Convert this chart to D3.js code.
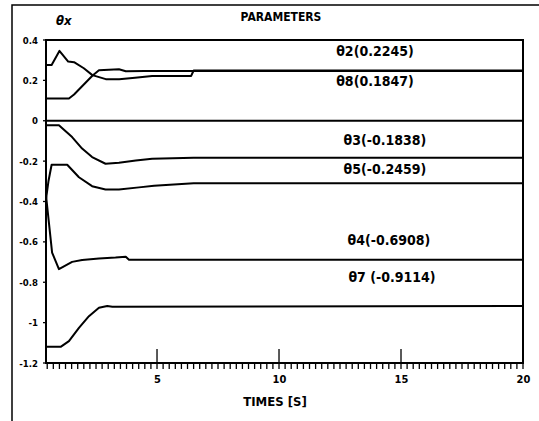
<!DOCTYPE html>
<html>
<head>
<meta charset="utf-8">
<script src="https://cdn.jsdelivr.net/npm/d3@7"></script>
<style>
  body { margin: 0; background: #fff; }
  svg { display: block; }
  text { font-family: "DejaVu Sans Condensed", "DejaVu Sans", sans-serif; font-weight: bold; fill: #000; }
</style>
</head>
<body>
<svg id="chart" width="539" height="421"></svg>
<script>
// values: [time (s), parameter value]
const theta2 = [[0.45,0.276],[0.68,0.276],[1.0,0.346],[1.36,0.293],[1.6,0.29],[2.0,0.26],[2.35,0.226],[2.9,0.206],[3.45,0.206],[4.1,0.213],[4.8,0.222],[6.4,0.222],[6.5,0.249],[20,0.249]];
const theta8 = [[0.45,0.11],[1.39,0.11],[1.6,0.13],[2.35,0.223],[2.62,0.25],[3.44,0.255],[3.72,0.245],[4.5,0.246],[20,0.246]];
const theta3 = [[0.45,-0.022],[0.98,-0.022],[1.52,-0.081],[1.93,-0.138],[2.34,-0.18],[2.89,-0.213],[3.44,-0.208],[4.13,-0.197],[4.8,-0.188],[6.5,-0.183],[20,-0.183]];
const theta5 = [[0.45,-0.39],[0.55,-0.3],[0.68,-0.218],[1.32,-0.218],[1.8,-0.28],[2.34,-0.324],[2.89,-0.341],[3.44,-0.341],[4.26,-0.33],[4.88,-0.322],[6.5,-0.31],[20,-0.31]];
const theta4 = [[0.45,-0.37],[0.7,-0.653],[0.98,-0.735],[1.52,-0.699],[1.93,-0.69],[2.62,-0.682],[3.3,-0.678],[3.72,-0.674],[3.85,-0.688],[20,-0.688]];
const theta7 = [[0.45,-1.12],[1.05,-1.12],[1.39,-1.092],[1.8,-1.026],[2.21,-0.968],[2.62,-0.926],[2.96,-0.918],[3.17,-0.921],[20,-0.918]];

const seriesNames = ["\u03b82(0.2245)", "\u03b88(0.1847)", "\u03b83(-0.1838)", "\u03b85(-0.2459)", "\u03b84(-0.6908)", "\u03b87 (-0.9114)"];
const seriesValues = [theta2, theta8, theta3, theta5, theta4, theta7];

const yTicks = [0.4, 0.2, 0, -0.2, -0.4, -0.6, -0.8, -1, -1.2];
const yTickLabels = ["0.4", "0.2", "0", "-0.2", "-0.4", "-0.6", "-0.8", "-1", "-1.2"];
const xTicks = [5, 10, 15, 20];
const xTickLabels = ["5", "10", "15", "20"];
const xMajor = [5, 10, 15];
const xMinor = d3.range(0.5, 20.01, 0.25);

const svg = d3.select("#chart");

const x = d3.scaleLinear().domain([0.45, 20]).range([46, 523]);
const y = d3.scaleLinear().domain([-1.2, 0.4]).range([363, 40]);
const y0 = y(-1.2), x0 = x(0.45);

// outer frame (left + top only)
svg.append("path")
  .attr("d", "M12,421V5H539")
  .attr("fill", "none").attr("stroke", "#000").attr("stroke-width", 1.5);

// titles
svg.append("text").attr("x", 281).attr("y", 21).attr("text-anchor", "middle")
  .style("font-size", "12px").text("PARAMETERS");
svg.append("text").attr("x", 56).attr("y", 25)
  .style("font-size", "13px").style("font-style", "italic").text("\u03b8x");
svg.append("text").attr("x", 275).attr("y", 406).attr("text-anchor", "middle")
  .style("font-size", "13px").text("TIMES [S]");

// x axis: minor ticks hanging below, major ticks standing up
const ticks = svg.append("g").attr("stroke", "#000").attr("stroke-width", 1.3);
ticks.selectAll("line.minor").data(xMinor).join("line").attr("class", "minor")
  .attr("x1", d => x(d)).attr("x2", d => x(d)).attr("y1", y0).attr("y2", y0 + 6);
ticks.selectAll("line.major").data(xMajor).join("line").attr("class", "major")
  .attr("x1", d => x(d)).attr("x2", d => x(d)).attr("y1", y0).attr("y2", y0 - 14);
ticks.selectAll("line.ytick").data(yTicks).join("line").attr("class", "ytick")
  .attr("x1", x0 - 3).attr("x2", x0).attr("y1", d => y(d)).attr("y2", d => y(d));

const xLab = svg.append("g").attr("transform", `translate(0,${y0})`)
  .call(d3.axisBottom(x).tickValues(xTicks).tickSize(0).tickPadding(12)
    .tickFormat((d, i) => xTickLabels[i]));
xLab.select(".domain").remove();
xLab.selectAll("text").style("font-size", "11px").attr("font-family", null);

// y axis labels
const yAx = svg.append("g").attr("transform", `translate(${x0},0)`)
  .call(d3.axisLeft(y).tickValues(yTicks).tickSize(0).tickPadding(8)
    .tickFormat((d, i) => yTickLabels[i]));
yAx.select(".domain").remove();
yAx.selectAll("text").style("font-size", "9.5px").attr("font-family", null);

// plot frame + zero line
svg.append("rect")
  .attr("x", x0).attr("y", y(0.4))
  .attr("width", x(20) - x0).attr("height", y0 - y(0.4))
  .attr("fill", "none").attr("stroke", "#000").attr("stroke-width", 2);
svg.append("line")
  .attr("x1", x0).attr("x2", x(20)).attr("y1", y(0)).attr("y2", y(0))
  .attr("stroke", "#000").attr("stroke-width", 2);

// curves
const line = d3.line().x(d => x(d[0])).y(d => y(d[1]));
svg.append("g").selectAll("path")
  .data(seriesValues).join("path")
  .attr("d", line)
  .attr("fill", "none").attr("stroke", "#000").attr("stroke-width", 2)
  .attr("stroke-linejoin", "round");

// series labels: baseline offset from the final level of each curve
const labelX = [375, 375, 385, 385, 389, 392];
const labelDy = [-14, 15, -13, -9, -15, -24];
svg.append("g").selectAll("text")
  .data(seriesNames).join("text")
  .attr("x", (d, i) => labelX[i])
  .attr("y", (d, i) => y(seriesValues[i][seriesValues[i].length - 1][1]) + labelDy[i])
  .attr("text-anchor", "middle")
  .style("font-size", "14px")
  .text(d => d);
</script>
</body>
</html>
